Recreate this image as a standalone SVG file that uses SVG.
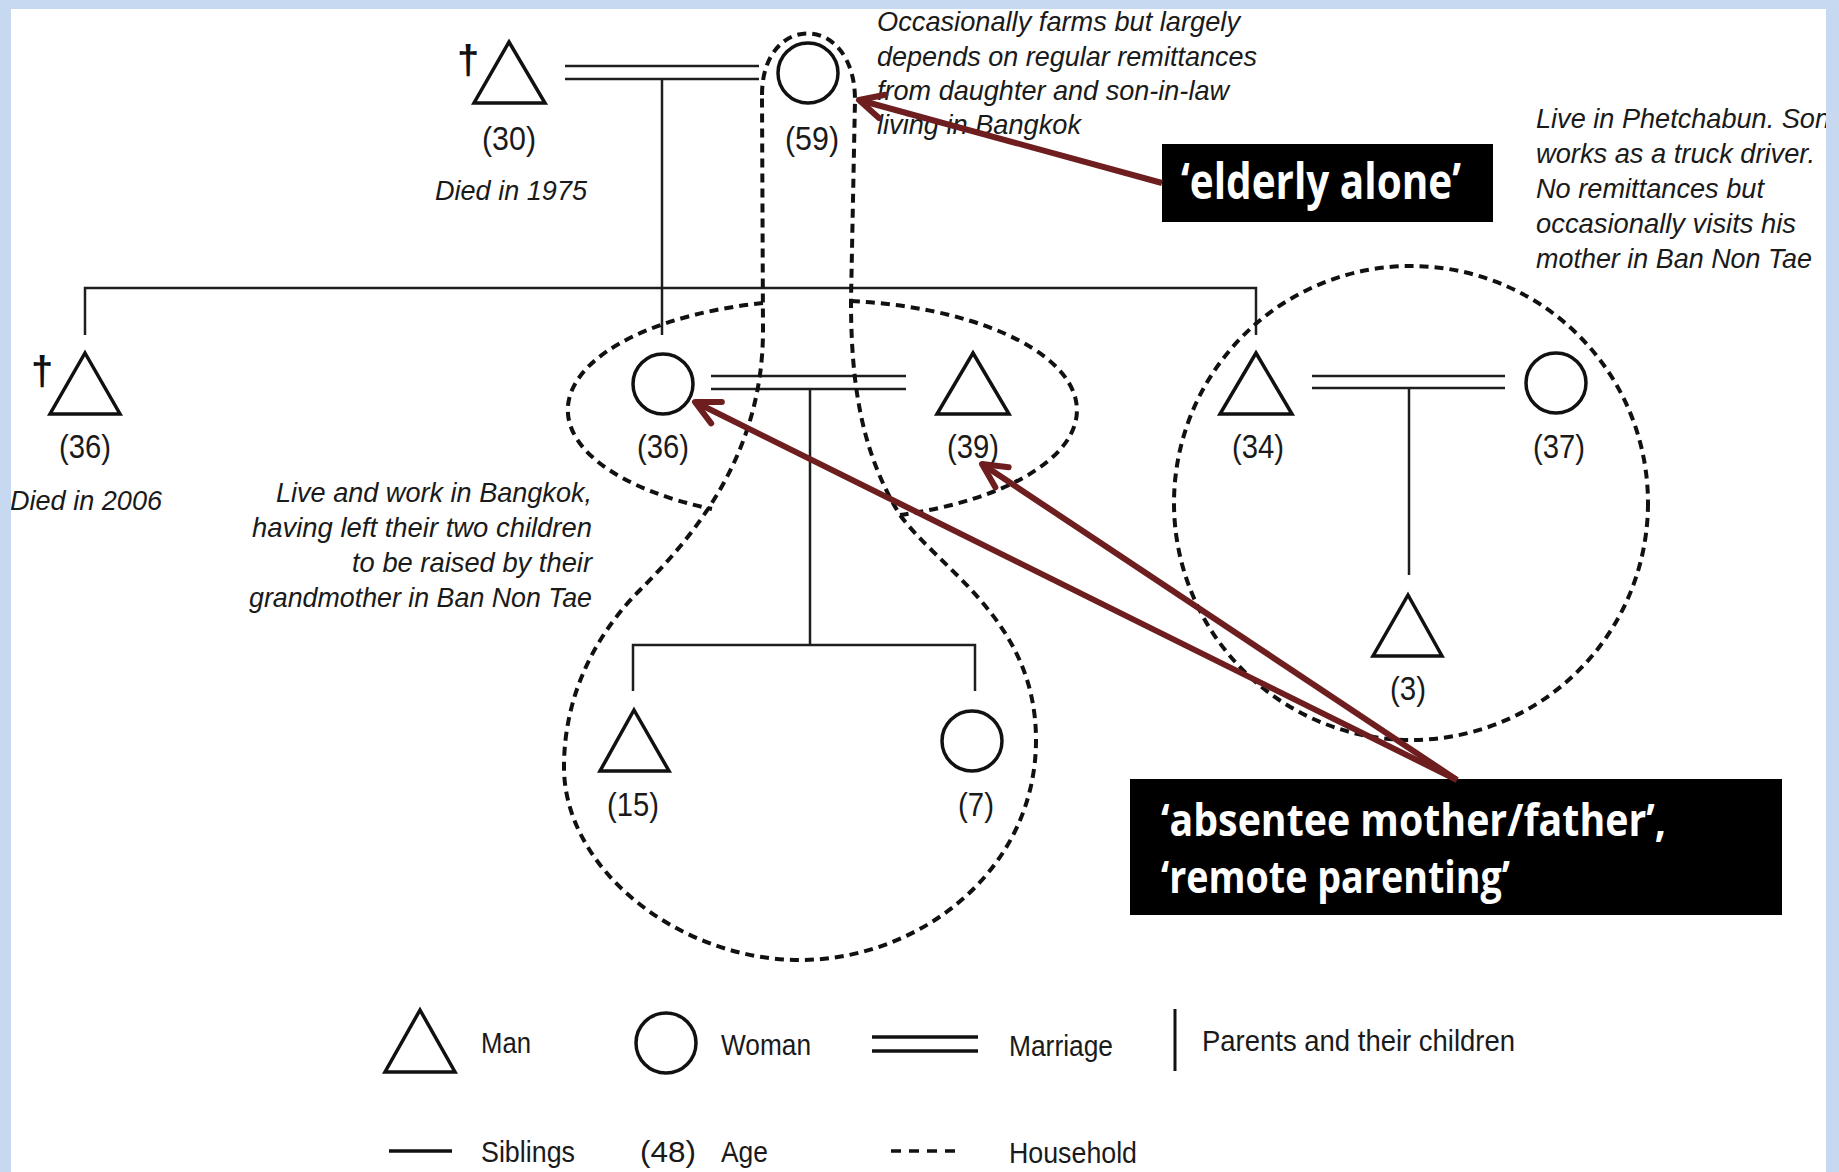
<svg xmlns="http://www.w3.org/2000/svg" width="1839" height="1172" viewBox="0 0 1839 1172">
<defs>
<style>
.ln{stroke:#1e1e1e;stroke-width:2.5;fill:none}
.sym{stroke:#111;stroke-width:3.5;fill:#fff;stroke-linejoin:miter}
.hh{stroke:#111;stroke-width:4;fill:none;stroke-dasharray:9 6}
.age{font-family:"Liberation Sans",Arial,sans-serif;font-size:33px;fill:#1a1a1a;text-anchor:middle}
.note{font-family:"Liberation Sans",Arial,sans-serif;font-size:28px;font-style:italic;fill:#1a1a1a}
.leg{font-family:"Liberation Sans",Arial,sans-serif;font-size:30px;fill:#1a1a1a}
.dag{font-family:"Liberation Sans",Arial,sans-serif;font-size:40px;font-weight:bold;fill:#111;text-anchor:middle}
.call{font-family:"Open Sans","Noto Sans",sans-serif;font-weight:700;font-size:50px;fill:#fff}
.call2{font-family:"Open Sans","Noto Sans",sans-serif;font-weight:700;font-size:45px;fill:#fff}
.arr{stroke:#6e1e1e;stroke-width:6;fill:none;marker-end:url(#ah)}
</style>
<marker id="ah" viewBox="-30 -16 34 32" refX="0" refY="0" markerWidth="34" markerHeight="32" markerUnits="userSpaceOnUse" orient="auto">
<path d="M -24,-12 L 0,0 L -24,12" fill="none" stroke="#6e1e1e" stroke-width="6" stroke-linecap="round" stroke-linejoin="round"/>
</marker>
</defs>
<rect x="0" y="0" width="1839" height="1172" fill="#fff"/>

<g id="connectors">
<line class="ln" x1="565" y1="66" x2="759" y2="66"/>
<line class="ln" x1="565" y1="79" x2="759" y2="79"/>
<line class="ln" x1="662" y1="79" x2="662" y2="335"/>
<polyline class="ln" points="85,335 85,288 1256,288 1256,335"/>
<line class="ln" x1="711" y1="376" x2="906" y2="376"/>
<line class="ln" x1="711" y1="389" x2="906" y2="389"/>
<line class="ln" x1="810" y1="389" x2="810" y2="645"/>
<polyline class="ln" points="633,691 633,645 975,645 975,691"/>
<line class="ln" x1="1312" y1="376" x2="1505" y2="376"/>
<line class="ln" x1="1312" y1="388" x2="1505" y2="388"/>
<line class="ln" x1="1409" y1="388" x2="1409" y2="575"/>
</g>

<g id="households">
<path class="hh" d="M 762,95 C 762,12 855,12 855,100 L 851,300 C 851,380 860,450 900,515 C 940,570 1036,620 1036,740 C 1036,870 920,960 800,960 C 680,960 564,870 564,767 C 564,690 600,630 640,590 C 700,530 763,450 763,330 Z"/>
<path class="hh" d="M 763,303 A 255 110 0 0 0 712,509"/>
<path class="hh" d="M 851,301 A 255 110 0 0 1 900,515"/>
<circle class="hh" cx="1411" cy="503" r="237"/>
</g>

<g id="node-grandfather">
<text class="dag" x="468" y="74">†</text>
<polygon class="sym" points="509,42 545,103 474,103"/>
<text class="age" x="509" y="150" textLength="54" lengthAdjust="spacingAndGlyphs">(30)</text>
<text class="note" x="435" y="200" textLength="152" lengthAdjust="spacingAndGlyphs">Died in 1975</text>
</g>
<g id="node-grandmother">
<circle class="sym" cx="808" cy="73" r="30"/>
<text class="age" x="812" y="150" textLength="54" lengthAdjust="spacingAndGlyphs">(59)</text>
</g>
<g id="note-grandmother">
<text class="note" x="877" y="31" textLength="363" lengthAdjust="spacingAndGlyphs">Occasionally farms but largely</text>
<text class="note" x="877" y="66" textLength="380" lengthAdjust="spacingAndGlyphs">depends on regular remittances</text>
<text class="note" x="877" y="100" textLength="352" lengthAdjust="spacingAndGlyphs">from daughter and son-in-law</text>
<text class="note" x="877" y="134" textLength="204" lengthAdjust="spacingAndGlyphs">living in Bangkok</text>
</g>
<g id="note-son">
<text class="note" x="1536" y="128" textLength="294" lengthAdjust="spacingAndGlyphs">Live in Phetchabun. Son</text>
<text class="note" x="1536" y="163" textLength="279" lengthAdjust="spacingAndGlyphs">works as a truck driver.</text>
<text class="note" x="1536" y="198" textLength="228" lengthAdjust="spacingAndGlyphs">No remittances but</text>
<text class="note" x="1536" y="233" textLength="260" lengthAdjust="spacingAndGlyphs">occasionally visits his</text>
<text class="note" x="1536" y="268" textLength="276" lengthAdjust="spacingAndGlyphs">mother in Ban Non Tae</text>
</g>
<g id="node-uncle">
<text class="dag" x="42" y="385">†</text>
<polygon class="sym" points="85,353 120,414 50,414"/>
<text class="age" x="85" y="458" textLength="52" lengthAdjust="spacingAndGlyphs">(36)</text>
<text class="note" x="10" y="510" textLength="152" lengthAdjust="spacingAndGlyphs">Died in 2006</text>
</g>
<g id="node-mother">
<circle class="sym" cx="663" cy="384" r="30"/>
<text class="age" x="663" y="458" textLength="52" lengthAdjust="spacingAndGlyphs">(36)</text>
</g>
<g id="node-father">
<polygon class="sym" points="973,353 1009,414 937,414"/>
<text class="age" x="973" y="458" textLength="52" lengthAdjust="spacingAndGlyphs">(39)</text>
</g>
<g id="note-parents">
<text class="note" x="276" y="502" textLength="316" lengthAdjust="spacingAndGlyphs">Live and work in Bangkok,</text>
<text class="note" x="252" y="537" textLength="340" lengthAdjust="spacingAndGlyphs">having left their two children</text>
<text class="note" x="352" y="572" textLength="240" lengthAdjust="spacingAndGlyphs">to be raised by their</text>
<text class="note" x="249" y="607" textLength="343" lengthAdjust="spacingAndGlyphs">grandmother in Ban Non Tae</text>
</g>
<g id="node-son">
<polygon class="sym" points="1256,353 1292,414 1220,414"/>
<text class="age" x="1258" y="458" textLength="52" lengthAdjust="spacingAndGlyphs">(34)</text>
</g>
<g id="node-daughter-in-law">
<circle class="sym" cx="1556" cy="383" r="30"/>
<text class="age" x="1559" y="458" textLength="52" lengthAdjust="spacingAndGlyphs">(37)</text>
</g>
<g id="node-grandson-3">
<polygon class="sym" points="1408,595 1442,656 1373,656"/>
<text class="age" x="1408" y="700" textLength="36" lengthAdjust="spacingAndGlyphs">(3)</text>
</g>
<g id="node-grandson-15">
<polygon class="sym" points="634,710 669,771 600,771"/>
<text class="age" x="633" y="816" textLength="52" lengthAdjust="spacingAndGlyphs">(15)</text>
</g>
<g id="node-granddaughter-7">
<circle class="sym" cx="972" cy="741" r="30"/>
<text class="age" x="976" y="816" textLength="36" lengthAdjust="spacingAndGlyphs">(7)</text>
</g>

<g id="callout-elderly">
<rect x="1162" y="144" width="331" height="78" fill="#000"/>
<text class="call" x="1181" y="199" textLength="280" lengthAdjust="spacingAndGlyphs">‘elderly alone’</text>
</g>
<g id="callout-absentee">
<rect x="1130" y="779" width="652" height="136" fill="#000"/>
<text class="call2" x="1161" y="836" textLength="505" lengthAdjust="spacingAndGlyphs">‘absentee mother/father’,</text>
<text class="call2" x="1161" y="893" textLength="349" lengthAdjust="spacingAndGlyphs">‘remote parenting’</text>
</g>
<g id="arrows">
<line class="arr" x1="1162" y1="183" x2="859" y2="100"/>
<line class="arr" x1="1457" y1="780" x2="695" y2="402"/>
<line class="arr" x1="1457" y1="780" x2="982" y2="464"/>
</g>

<g id="legend">
<polygon class="sym" points="420,1010 455,1072 385,1072"/>
<text class="leg" x="481" y="1053" textLength="50" lengthAdjust="spacingAndGlyphs">Man</text>
<circle class="sym" cx="666" cy="1043" r="30"/>
<text class="leg" x="721" y="1055" textLength="90" lengthAdjust="spacingAndGlyphs">Woman</text>
<line x1="872" y1="1037" x2="978" y2="1037" stroke="#111" stroke-width="3.5"/>
<line x1="872" y1="1051" x2="978" y2="1051" stroke="#111" stroke-width="3.5"/>
<text class="leg" x="1009" y="1056" textLength="104" lengthAdjust="spacingAndGlyphs">Marriage</text>
<line x1="1175" y1="1009" x2="1175" y2="1071" stroke="#111" stroke-width="3"/>
<text class="leg" x="1202" y="1051" textLength="313" lengthAdjust="spacingAndGlyphs">Parents and their children</text>
<line x1="389" y1="1151" x2="452" y2="1151" stroke="#111" stroke-width="3.5"/>
<text class="leg" x="481" y="1162" textLength="94" lengthAdjust="spacingAndGlyphs">Siblings</text>
<text class="leg" x="640" y="1162" textLength="56" lengthAdjust="spacingAndGlyphs">(48)</text>
<text class="leg" x="721" y="1162" textLength="47" lengthAdjust="spacingAndGlyphs">Age</text>
<line x1="891" y1="1151" x2="955" y2="1151" stroke="#111" stroke-width="3.5" stroke-dasharray="10 8"/>
<text class="leg" x="1009" y="1163" textLength="128" lengthAdjust="spacingAndGlyphs">Household</text>
</g>

<path id="frame" fill="#c6d9f1" fill-rule="evenodd" d="M0,0 H1839 V1172 H0 Z M11,9 V1172 H1826 V9 Z"/>
</svg>
